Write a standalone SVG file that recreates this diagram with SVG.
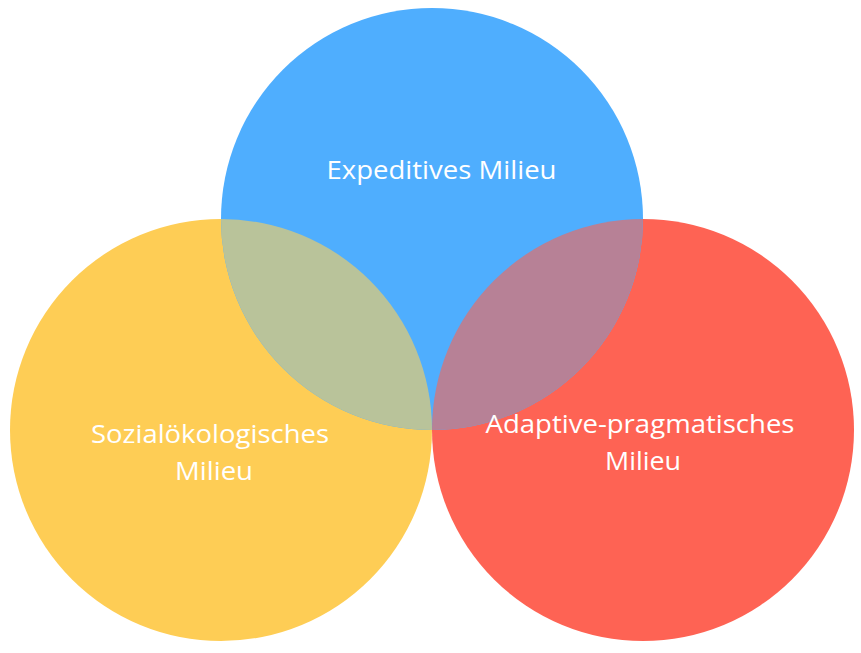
<svg xmlns="http://www.w3.org/2000/svg" width="861" height="653" viewBox="0 0 861 653">
  <style>
    .label { font-family: "Open Sans", "Liberation Sans", sans-serif; font-size: 26px; fill: #ffffff; text-anchor: middle; }
  </style>
  <rect width="861" height="653" fill="#ffffff"/>

  <!-- Three milieu circles -->
  <g id="sozialoekologisch">
    <circle cx="221" cy="430" r="211" fill="#FECD55"/>
  </g>
  <g id="adaptiv-pragmatisch">
    <circle cx="643" cy="430" r="211" fill="#FE6354"/>
  </g>
  <g id="expeditiv">
    <circle cx="432" cy="219" r="211" fill="#4FAEFE"/>
  </g>

  <!-- Overlap lenses -->
  <g id="overlaps">
    <path d="M221,219 A211,211 0 0 1 432,430 A211,211 0 0 1 221,219 Z" fill="#B9C39A"/>
    <path d="M432,430 A211,211 0 0 1 643,219 A211,211 0 0 1 432,430 Z" fill="#B78196"/>
  </g>

  <!-- Labels -->
  <g id="labels">
    <text class="label" x="441.5" y="179" textLength="230" lengthAdjust="spacingAndGlyphs">Expeditives Milieu</text>
    <text class="label" x="210" y="443" textLength="238" lengthAdjust="spacingAndGlyphs">Sozialökologisches</text>
    <text class="label" x="214" y="480" textLength="78" lengthAdjust="spacingAndGlyphs">Milieu</text>
    <text class="label" x="640" y="433" textLength="309" lengthAdjust="spacingAndGlyphs">Adaptive-pragmatisches</text>
    <text class="label" x="643" y="470" textLength="76" lengthAdjust="spacingAndGlyphs">Milieu</text>
  </g>
</svg>
